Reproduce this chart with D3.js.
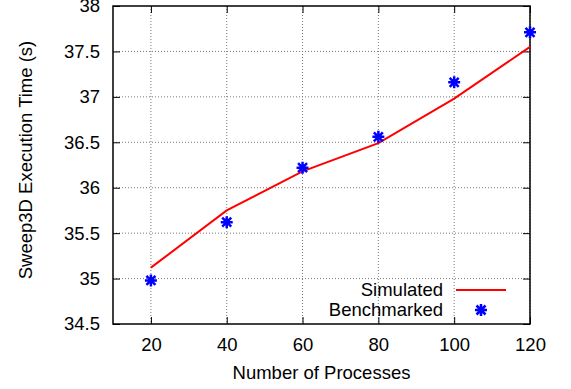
<!DOCTYPE html>
<meta charset="utf-8">
<head>
<script src="https://d3js.org/d3.v7.min.js"></script>
<style>
body { margin: 0; background: #fff; }
text { font-family: "Liberation Sans", Arial, sans-serif; font-size: 18.5px; fill: #000; }
.grid line { stroke: #777; stroke-dasharray: 1,2; stroke-width: 1; }
</style>
</head>
<body>
<script>

// Data
var processes = [20, 40, 60, 80, 100, 120];
var simulated = [35.12, 35.75, 36.18, 36.49, 36.98, 37.55];
var benchmarked = [34.98, 35.62, 36.22, 36.56, 37.16, 37.71];
var xTicks = [20, 40, 60, 80, 100, 120];
var yTicks = [34.5, 35, 35.5, 36, 36.5, 37, 37.5, 38];

var margin = {top: 6, right: 41, bottom: 65, left: 113},
    width = 571 - margin.left - margin.right,
    height = 389 - margin.top - margin.bottom;

var x = d3.scaleLinear().domain([10, 120]).range([0, width]);
var y = d3.scaleLinear().domain([34.5, 38]).range([height, 0]);

var svg = d3.select("body").append("svg")
    .attr("width", 571)
    .attr("height", 389)
  .append("g")
    .attr("transform", "translate(" + margin.left + "," + margin.top + ")");

// Grid lines
svg.append("g").attr("class", "grid")
  .selectAll("line").data(xTicks).enter().append("line")
    .attr("x1", d => x(d)).attr("x2", d => x(d))
    .attr("y1", 0).attr("y2", height);
svg.append("g").attr("class", "grid")
  .selectAll("line").data(yTicks.slice(1, -1)).enter().append("line")
    .attr("x1", 0).attr("x2", width)
    .attr("y1", d => y(d)).attr("y2", d => y(d));

// Axes (ticks inward, mirrored)
function style(g) {
  g.select(".domain").remove();
  g.selectAll("line").attr("stroke", "#000").attr("stroke-width", 1);
  g.selectAll("text").style("font-size", "18.5px").style("font-family", "Liberation Sans, Arial, sans-serif");
}
svg.append("g")
    .attr("transform", "translate(0," + height + ")")
    .call(d3.axisBottom(x).tickValues(xTicks).tickSizeInner(-7).tickPadding(14).tickFormat(d3.format("d")))
    .call(style);
svg.append("g")
    .call(d3.axisTop(x).tickValues(xTicks).tickSizeInner(-7).tickFormat(""))
    .call(style);
svg.append("g")
    .call(d3.axisLeft(y).tickValues(yTicks).tickSizeInner(-7).tickPadding(13).tickFormat(d3.format("")))
    .call(style);
svg.append("g")
    .attr("transform", "translate(" + width + ",0)")
    .call(d3.axisRight(y).tickValues(yTicks).tickSizeInner(-7).tickFormat(""))
    .call(style);

// Frame
svg.append("rect")
    .attr("width", width).attr("height", height)
    .attr("fill", "none").attr("stroke", "#000").attr("stroke-width", 1.5);

// Simulated line
var line = d3.line()
    .x((d, i) => x(processes[i]))
    .y(d => y(d));
svg.append("path")
    .datum(simulated)
    .attr("d", line)
    .attr("fill", "none")
    .attr("stroke", "#ff0000")
    .attr("stroke-width", 2);

// Star marker (gnuplot point type 3)
function star(g, cx, cy) {
  var r = 6, d = r * 0.75;
  var p = "M" + (cx - r) + "," + cy + "h" + (2 * r) +
          "M" + cx + "," + (cy - r) + "v" + (2 * r) +
          "M" + (cx - d) + "," + (cy - d) + "l" + (2 * d) + "," + (2 * d) +
          "M" + (cx - d) + "," + (cy + d) + "l" + (2 * d) + "," + (-2 * d);
  g.append("path").attr("d", p).attr("stroke", "#0000ff").attr("stroke-width", 2.5).attr("fill", "none");
}
benchmarked.forEach(function(v, i) {
  star(svg, x(processes[i]), y(v));
});

// Legend
svg.append("text")
    .attr("x", 330).attr("y", 284)
    .attr("dy", "0.35em")
    .attr("text-anchor", "end")
    .text("Simulated");
svg.append("line")
    .attr("x1", 343).attr("x2", 393)
    .attr("y1", 284).attr("y2", 284)
    .attr("stroke", "#ff0000").attr("stroke-width", 2);
svg.append("text")
    .attr("x", 330).attr("y", 304)
    .attr("dy", "0.35em")
    .attr("text-anchor", "end")
    .text("Benchmarked");
star(svg, 368, 304);

// Axis labels
svg.append("text")
    .attr("x", width / 2).attr("y", height + 55)
    .attr("text-anchor", "middle")
    .text("Number of Processes");
svg.append("text")
    .attr("transform", "translate(" + (-81) + "," + 154 + ") rotate(-90)")
    .attr("text-anchor", "middle")
    .text("Sweep3D Execution Time (s)");

</script>
</body>
